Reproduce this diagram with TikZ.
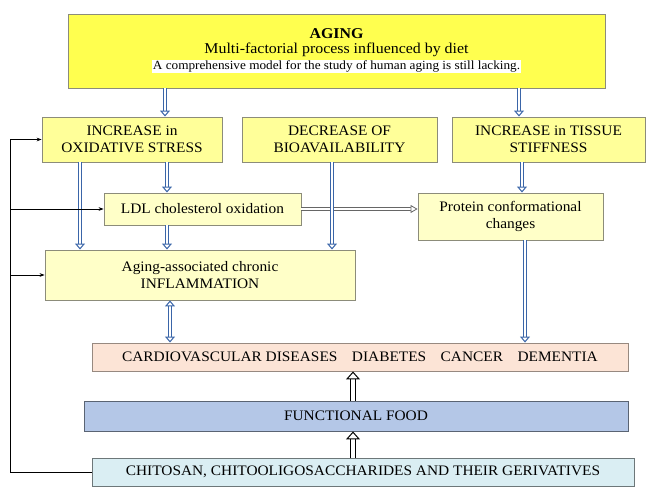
\documentclass[tikz,border=0pt]{standalone}
\usepackage{fontspec}
\setmainfont{Liberation Serif}[FakeStretch=1.06]
\usetikzlibrary{arrows.meta,calc}
\definecolor{AgeYellow}{HTML}{FFFF4F}
\definecolor{RowYellow}{HTML}{FFFF99}
\definecolor{PaleYellow}{HTML}{FFFFC8}
\definecolor{Peach}{HTML}{FCE4D6}
\definecolor{FoodBlue}{HTML}{B4C7E7}
\definecolor{Ice}{HTML}{DAEEF3}
\definecolor{Edge}{HTML}{8C8C7A}
\definecolor{ArrBlue}{HTML}{3A65A8}
\tikzset{
  box/.style={draw=Edge,line width=0.9pt,align=center,inner sep=2pt,
    font=\fontsize{14.5}{17}\selectfont},
  bluetip/.tip={Triangle[open,fill=white,length=6pt,width=10pt,line width=1pt]},
  bluearrow/.style={draw=ArrBlue,double=white,double distance=2.4pt,
    line width=1pt,-bluetip},
  blacktip/.tip={Triangle[open,fill=white,length=8pt,width=14pt,line width=1pt]},
  hollowarrow/.style={draw=black,double=white,double distance=4pt,
    line width=1pt,-blacktip},
}

\begin{document}
\begin{tikzpicture}[x=1pt,y=-1pt]
  \useasboundingbox (0,0) rectangle (649,487);
  % boxes
  \node[box,fill=AgeYellow,minimum width=537,minimum height=74] (aging) at (336.5,51)
    {\textbf{\fontsize{15}{17}\selectfont AGING}\\[-2pt]
     {\fontsize{15}{17}\selectfont Multi-factorial process influenced by diet}\\[-1pt]
     {\setlength{\fboxsep}{1pt}\colorbox{white}{\fontsize{12.5}{13}\selectfont A comprehensive model for the study of human aging is still lacking.}}};
  \node[box,fill=RowYellow,minimum width=180,minimum height=45] (ox) at (132,139.5)
    {INCREASE in\\OXIDATIVE STRESS};
  \node[box,fill=RowYellow,minimum width=195,minimum height=45] (bio) at (339.5,139.5)
    {DECREASE OF\\BIOAVAILABILITY};
  \node[box,fill=RowYellow,minimum width=193,minimum height=45] (stiff) at (548.5,139.5)
    {INCREASE in TISSUE\\STIFFNESS};
  \node[box,fill=PaleYellow,minimum width=197,minimum height=32] (ldl) at (202.5,209)
    {LDL cholesterol oxidation};
  \node[box,fill=PaleYellow,minimum width=185,minimum height=47] (prot) at (510.5,216.5)
    {Protein conformational\\changes};
  \node[box,fill=PaleYellow,minimum width=310,minimum height=50] (infl) at (200,275)
    {Aging-associated chronic\\INFLAMMATION};
  \node[box,fill=Peach,draw=Peach!60!black,minimum width=536,minimum height=28] (dis) at (360,357)
    {CARDIOVASCULAR DISEASES\quad DIABETES\quad CANCER\quad DEMENTIA};
  \node[box,fill=FoodBlue,draw=FoodBlue!50!black,minimum width=544,minimum height=30] (food) at (356,416)
    {FUNCTIONAL FOOD};
  \node[box,fill=Ice,draw=Ice!50!black,minimum width=542,minimum height=28] (chit) at (363,472)
    {CHITOSAN, CHITOOLIGOSACCHARIDES AND THEIR GERIVATIVES};

  % grey link (under the blue arrow)
  \draw[draw=gray!80!black,double=white,double distance=1.8pt,line width=0.8pt,
    -{Triangle[open,fill=white,length=7pt,width=8pt,line width=0.8pt]}]
    (ldl.east) -- (ldl.east -| prot.west);

  % blue arrows
  \draw[bluearrow] ([xshift=33]ox.north |- aging.south) -- ([xshift=33]ox.north);
  \draw[bluearrow] ([xshift=-29.5]stiff.north |- aging.south) -- ([xshift=-29.5]stiff.north);
  \draw[bluearrow] ([xshift=-52]ox.south) -- ([xshift=-52]ox.south |- infl.north);
  \draw[bluearrow] ([xshift=35]ox.south) -- ([xshift=35]ox.south |- ldl.north);
  \draw[bluearrow] ([xshift=-35.5]ldl.south) -- ([xshift=-35.5]ldl.south |- infl.north);
  \draw[bluearrow] ([xshift=-7.5]bio.south) -- ([xshift=-7.5]bio.south |- infl.north);
  \draw[bluearrow] ([xshift=-26.5]stiff.south) -- ([xshift=-26.5]stiff.south |- prot.north);
  \draw[bluearrow] ([xshift=14.5]prot.south) -- ([xshift=14.5]prot.south |- dis.north);
  \draw[bluearrow,bluetip-bluetip] ([xshift=-30]infl.south) -- ([xshift=-30]infl.south |- dis.north);

  % hollow arrows
  \draw[hollowarrow] ([xshift=-3]food.north) -- ([xshift=-3]food.north |- dis.south);
  \draw[hollowarrow] ([xshift=-10]chit.north) -- ([xshift=-10]chit.north |- food.south);

  % feedback line
  \coordinate (fb) at (10,472);
  \draw[line width=0.6pt,-{Stealth[length=5pt]}] (chit.west) -- (fb) |- (ox.west);
  \draw[line width=0.6pt,-{Stealth[length=5pt]}] (fb |- ldl.west) -- (ldl.west);
  \draw[line width=0.6pt,-{Stealth[length=5pt]}] (fb |- infl.west) -- (infl.west);
\end{tikzpicture}
\end{document}
